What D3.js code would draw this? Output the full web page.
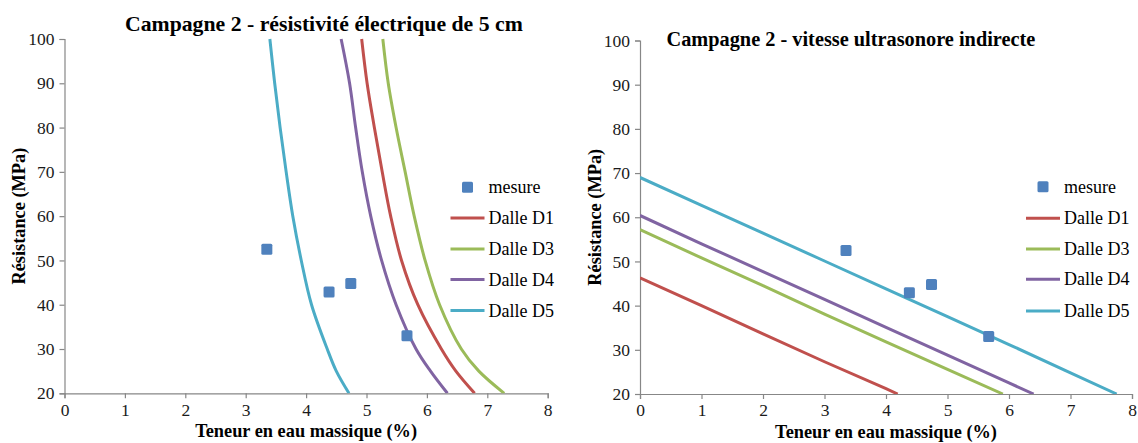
<!DOCTYPE html>
<html><head><meta charset="utf-8">
<script src="https://cdn.jsdelivr.net/npm/d3@7"></script>
<style>
html,body{margin:0;padding:0;background:#fff;}
svg{display:block;}
</style></head>
<body>
<svg id="c" width="1138" height="443"></svg>
<script>
// ---------- data ----------
const mesureX = [3.35, 4.38, 4.74, 5.67];
const mesureY = [52.5, 42.9, 44.8, 33.0];

const seriesNames = ["Dalle D1", "Dalle D3", "Dalle D4", "Dalle D5"];
const seriesColors = ["#C0504D", "#9BBB59", "#8064A2", "#4BACC6"];

// Left chart: résistivité électrique (x read at each resistance level)
const resY = [100, 90, 80, 70, 60, 50, 40, 30, 25, 20];
const resD1 = [4.92, 5.01, 5.13, 5.26, 5.40, 5.58, 5.85, 6.24, 6.48, 6.79];
const resD3 = [5.27, 5.36, 5.49, 5.64, 5.79, 5.97, 6.21, 6.57, 6.86, 7.28];
const resD4 = [4.58, 4.72, 4.82, 4.93, 5.07, 5.25, 5.49, 5.82, 6.06, 6.34];
const resD5 = [3.40, 3.48, 3.57, 3.67, 3.78, 3.92, 4.09, 4.35, 4.50, 4.71];

// Right chart: vitesse ultrasonore indirecte
const ultD1x = [0, 1, 2, 3, 4, 4.19];
const ultD1 = [46.3, 40.0, 33.6, 27.3, 21.2, 20];
const ultD3x = [0, 1, 2, 3, 4, 5, 5.9];
const ultD3 = [57.2, 50.8, 44.5, 38.1, 31.8, 25.6, 20];
const ultD4x = [0, 1, 2, 3, 4, 5, 6, 6.4];
const ultD4 = [60.4, 54.0, 47.7, 41.4, 35.1, 28.8, 22.5, 20];
const ultD5x = [0, 1, 2, 3, 4, 5, 6, 7, 7.75];
const ultD5 = [69.0, 62.7, 56.4, 50.1, 43.8, 37.5, 31.2, 24.8, 20];

const xTicks = [0, 1, 2, 3, 4, 5, 6, 7, 8];
const yTicks = [20, 30, 40, 50, 60, 70, 80, 90, 100];

const titleLeft = "Campagne 2 - résistivité électrique de 5 cm";
const titleRight = "Campagne 2 - vitesse ultrasonore indirecte";
const xLabel = "Teneur en eau massique (%)";
const yLabel = "Résistance (MPa)";
const legendLabels = ["mesure", ...seriesNames];

// ---------- drawing ----------
const SERIF = "'Liberation Serif', 'Times New Roman', serif";
const svg = d3.select("#c");

function zip(xs, ys){ return xs.map((x,i)=>({x:x, y:ys[i]})); }

const leftSeries = [
  zip(resD1, resY), zip(resD3, resY), zip(resD4, resY), zip(resD5, resY)
];
const rightSeries = [
  zip(ultD1x, ultD1), zip(ultD3x, ultD3), zip(ultD4x, ultD4), zip(ultD5x, ultD5)
];

function fitText(sel, targetW){
  const w = sel.node().getComputedTextLength();
  const fs = parseFloat(sel.style("font-size"));
  sel.style("font-size", (fs * targetW / w) + "px");
}

function drawChart(cfg){
  const g = svg.append("g");
  const x = d3.scaleLinear().domain([0, 8]).range([cfg.x0, cfg.x1]);
  const y = d3.scaleLinear().domain([20, 100]).range([cfg.y1, cfg.y0]);

  const clipId = "clip" + cfg.id;
  svg.append("clipPath").attr("id", clipId).append("rect")
    .attr("x", cfg.x0).attr("y", cfg.y0 - 1)
    .attr("width", cfg.x1 - cfg.x0).attr("height", cfg.y1 - cfg.y0 + 1);

  // axes
  const xAxis = d3.axisBottom(x).tickValues(xTicks).tickSize(5).tickPadding(5).tickFormat(d3.format("d"));
  const yAxis = d3.axisLeft(y).tickValues(yTicks).tickSize(5).tickPadding(5).tickFormat(d3.format("d"));
  const gx = g.append("g").attr("transform", `translate(0,${cfg.y1})`).call(xAxis);
  const gy = g.append("g").attr("transform", `translate(${cfg.x0},0)`).call(yAxis);
  [gx, gy].forEach(a => {
    a.select(".domain").attr("stroke", "#878787").attr("stroke-width", 1.2);
    a.selectAll(".tick line").attr("stroke", "#878787").attr("stroke-width", 1.2);
    a.selectAll(".tick text").style("font-family", SERIF)
      .style("font-size", "17.5px").attr("fill", "#1a1a1a");
  });

  // lines
  const line = d3.line().x(d => x(d.x)).y(d => y(d.y)).curve(cfg.curve);
  const lg = g.append("g").attr("clip-path", `url(#${clipId})`);
  cfg.series.forEach((s, i) => {
    lg.append("path").datum(s).attr("d", line).attr("fill", "none")
      .attr("stroke", seriesColors[i]).attr("stroke-width", 3)
      .attr("stroke-linejoin", "round");
  });

  // markers
  const ms = 11;
  g.append("g").selectAll("rect").data(zip(mesureX, mesureY)).join("rect")
    .attr("x", d => x(d.x) - ms/2).attr("y", d => y(d.y) - ms/2)
    .attr("width", ms).attr("height", ms).attr("rx", 1.5)
    .attr("fill", "#4F81BD");

  // title
  const t = g.append("text").attr("x", cfg.titleX).attr("y", cfg.titleY)
    .style("font-family", SERIF).style("font-weight", "bold").style("font-size", "20px")
    .attr("fill", "#000").text(cfg.title);
  fitText(t, cfg.titleW);

  // axis titles
  const xl = g.append("text").attr("x", (cfg.x0 + cfg.x1) / 2).attr("y", cfg.xLabelY)
    .attr("text-anchor", "middle").style("font-family", SERIF).style("font-weight", "bold")
    .style("font-size", "17px").attr("fill", "#000").text(xLabel);
  fitText(xl, 222);
  const yl = g.append("text")
    .attr("transform", `translate(${cfg.yLabelX},${(cfg.y0 + cfg.y1) / 2}) rotate(-90)`)
    .attr("text-anchor", "middle").style("font-family", SERIF).style("font-weight", "bold")
    .style("font-size", "17px").attr("fill", "#000").text(yLabel);
  fitText(yl, 137);

  // legend
  const leg = g.append("g");
  cfg.legendRows.forEach((ry, i) => {
    if (i === 0) {
      leg.append("rect").attr("x", cfg.legX + 17 - ms/2).attr("y", ry - ms/2)
        .attr("width", ms).attr("height", ms).attr("rx", 1.5).attr("fill", "#4F81BD");
    } else {
      leg.append("line").attr("x1", cfg.legX).attr("x2", cfg.legX + 34)
        .attr("y1", ry).attr("y2", ry)
        .attr("stroke", seriesColors[i - 1]).attr("stroke-width", 3);
    }
    leg.append("text").attr("x", cfg.legX + 38).attr("y", ry + 6)
      .style("font-family", SERIF).style("font-size", "18px")
      .attr("fill", "#000").text(legendLabels[i]);
  });
}

drawChart({
  id: "L", x0: 64.5, x1: 547.7, y0: 39, y1: 393.3,
  series: leftSeries, curve: d3.curveCatmullRom.alpha(0.5),
  title: titleLeft, titleX: 125, titleY: 31, titleW: 398,
  xLabelY: 437, yLabelX: 25,
  legX: 450.5, legendRows: [187.3, 218, 249, 279.5, 310.5]
});
drawChart({
  id: "R", x0: 640, x1: 1132, y0: 40.5, y1: 394,
  series: rightSeries, curve: d3.curveLinear,
  title: titleRight, titleX: 666.5, titleY: 46, titleW: 369,
  xLabelY: 438, yLabelX: 601,
  legX: 1026, legendRows: [186.7, 218.3, 249, 279.3, 311]
});
</script>
</body></html>
